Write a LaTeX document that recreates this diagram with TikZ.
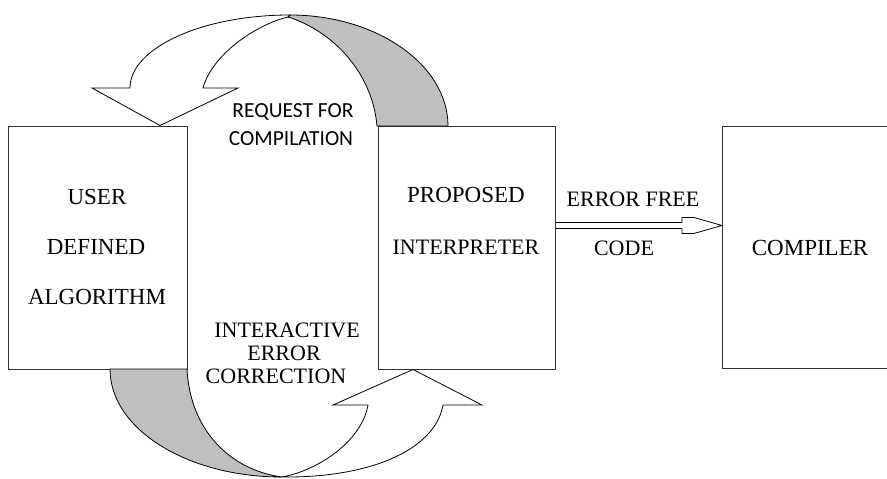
\documentclass[tikz,border=0pt]{standalone}
\usepackage{fontspec}
\setmainfont{Liberation Serif}
\newfontfamily\calib{Carlito}
\usetikzlibrary{calc}
\begin{document}
\begin{tikzpicture}[x=1pt,y=-1pt,
  boxn/.style={draw=black!80,line width=0.9pt,anchor=north west,inner sep=0pt},
  ser/.style={font=\fontsize{23}{26}\selectfont,text=black,inner sep=0pt},
  sers/.style={font=\fontsize{22}{26}\selectfont,text=black,inner sep=0pt},
  sans/.style={font=\calib\fontsize{21.5}{27}\selectfont,text=black,inner sep=0pt,align=center},
  ribbon/.style={draw=black,line width=0.8pt,line join=miter},
  back/.style={ribbon,fill=black!25},
  front/.style={ribbon,fill=white}]
\useasboundingbox (0,0) rectangle (887,479);
\clip (0,0) rectangle (887,479);
\fill[white] (0,0) rectangle (887,479);
% boxes
\node[boxn,minimum width=179pt,minimum height=243pt] (u) at (8,126) {};
\node[boxn,minimum width=177pt,minimum height=243pt] (p) at (378,126) {};
\node[boxn,minimum width=200pt,minimum height=242pt] (c) at (722,126) {};
% box texts
\node[ser] (u1) at (97,197) {USER};
\node[ser] (u2) at (96,247) {DEFINED};
\node[ser] (u3) at (97,297) {ALGORITHM};
\node[ser] (p1) at (466,195) {PROPOSED};
\node[sers] (p2) at (466,247) {INTERPRETER};
\node[ser] (c1) at (810,248) {COMPILER};
% top ribbon arrow (request for compilation)
\draw[back] (290,15) .. controls (377,15) and (448,65) .. (448,126)
  -- (377,126) .. controls (372,70) and (330,30) .. (288,17) -- cycle;
\draw[front] (290,15) .. controls (202,15) and (130,48) .. (130,88)
  -- (92,88) -- (160,125.5) -- (238,88) -- (203,88)
  .. controls (212,55) and (255,25) .. (288,17) -- cycle;
% bottom ribbon arrow (interactive error correction)
\draw[back] (110,369) .. controls (110,429) and (187,477) .. (282,477)
  .. controls (230,470) and (190,430) .. (187,369) -- cycle;
\draw[front] (282,477) .. controls (370,478) and (435,450) .. (443,405)
  -- (482,405) -- (413,369.5) -- (333,405) -- (368,405)
  .. controls (362,440) and (320,470) .. (282,477) -- cycle;
% labels
\node[sans] (r1) at (293,112) {REQUEST FOR};
\node[sans] (r2) at (291,139) {COMPILATION};
\node[sers] (i1) at (287,330) {INTERACTIVE};
\node[sers] (i2) at (284,353) {ERROR};
\node[sers] (i3) at (276,376) {CORRECTION};
\node[sers] (e1) at (633,199) {ERROR FREE};
\node[sers] (e2) at (624,248) {CODE};
% error free code arrow
\coordinate (a0) at (p.east |- 0,225.5);
\coordinate (a1) at (c.west |- 0,225.5);
\draw[line width=0.8pt] ($(a0)+(0,-3)$) -- ($(a1)+(-40,-3)$) -- ($(a1)+(-40,-8)$)
  -- ($(a1)+(-28,-8)$) -- (a1) -- ($(a1)+(-28,8)$) -- ($(a1)+(-40,8)$)
  -- ($(a1)+(-40,3)$) -- ($(a0)+(0,3)$);
\end{tikzpicture}
\end{document}
